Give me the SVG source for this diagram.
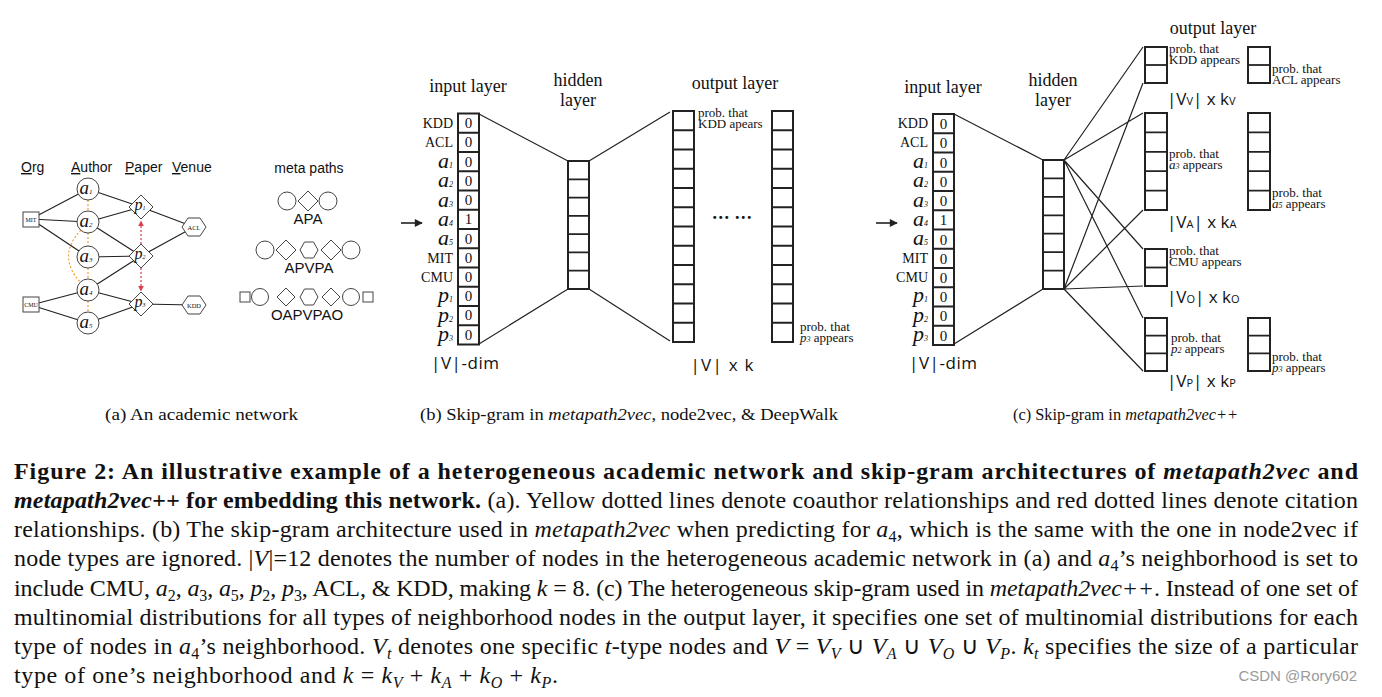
<svg xmlns="http://www.w3.org/2000/svg" width="1382" height="697" viewBox="0 0 1382 697">
<defs>
<style>
.ln{stroke:#222;stroke-width:1.2;fill:none}
.arr{stroke:#222;stroke-width:1.6;fill:none}
.nd{fill:#fff;stroke:#444;stroke-width:1}
.col{fill:#fff;stroke:#222;stroke-width:2}
.div{stroke:#222;stroke-width:1.8;fill:none}
.sf{font-family:"Liberation Serif","Times New Roman",serif;fill:#111}
.ss{font-family:"Liberation Sans",Arial,sans-serif;fill:#111}
.os{font-family:"Open Sans","Liberation Sans",sans-serif;fill:#111}
.pt{font-family:"Liberation Serif","Times New Roman",serif;fill:#111;font-size:13px}
.it{font-style:italic}
.bd{font-weight:bold}
.yel{stroke:#f0a030;stroke-width:1.2;stroke-dasharray:2 2;fill:none}
.red{stroke:#d8404a;stroke-width:1.2;stroke-dasharray:2 2;fill:none}
</style>
<marker id="ah" viewBox="0 0 10 10" refX="9" refY="5" markerWidth="10" markerHeight="8" markerUnits="userSpaceOnUse" orient="auto"><path d="M0,0 L10,5 L0,10 Z" fill="#222"/></marker>
<marker id="rh" viewBox="0 0 10 10" refX="9" refY="5" markerWidth="6" markerHeight="6" markerUnits="userSpaceOnUse" orient="auto"><path d="M0,0 L10,5 L0,10 Z" fill="#d8404a"/></marker>
</defs>
<rect width="1382" height="697" fill="#fff"/>

<!-- Panel (a) -->
<g id="panel-a">
<g id="a-headers" class="ss" font-size="14">
<text x="21" y="172"><tspan text-decoration="underline">O</tspan>rg</text>
<text x="71" y="172"><tspan text-decoration="underline">A</tspan>uthor</text>
<text x="125" y="172"><tspan text-decoration="underline">P</tspan>aper</text>
<text x="172" y="172"><tspan text-decoration="underline">V</tspan>enue</text>
</g>
<g id="a-edges">
<path class="ln" d="M31,219 L88,189 M31,219 L88,222 M31,219 L88,257 M31,305 L88,290 M31,305 L88,323 M88,189 L141,207 M88,222 L141,207 M88,222 L141,256 M88,257 L141,256 M88,290 L141,256 M88,290 L141,304 M88,323 L141,304 M141,207 L194,227 M141,256 L194,227 M141,304 L194,305"/>
<path class="yel" d="M88,200 V211 M88,233 V246 M88,268 V279 M88,301 V312 M81,230 Q56,256 81,283"/>
<path class="red" d="M141,244 V221" marker-end="url(#rh)"/>
<path class="red" d="M141,268 V291" marker-end="url(#rh)"/>
</g>
<g id="n-mit"><rect class="nd" x="23" y="212" width="16" height="15"/><text class="sf" x="31" y="222" font-size="6" text-anchor="middle">MIT</text></g>
<g id="n-cmu"><rect class="nd" x="23" y="297" width="16" height="15"/><text class="sf" x="31" y="307" font-size="6" text-anchor="middle">CMU</text></g>
<g id="n-a1"><circle class="nd" cx="88" cy="189" r="11"/><text class="sf it" x="86" y="194" font-size="19" text-anchor="middle">a<tspan font-size="7">1</tspan></text></g>
<g id="n-a2"><circle class="nd" cx="88" cy="222" r="11"/><text class="sf it" x="86" y="227" font-size="19" text-anchor="middle">a<tspan font-size="7">2</tspan></text></g>
<g id="n-a3"><circle class="nd" cx="88" cy="257" r="11"/><text class="sf it" x="86" y="262" font-size="19" text-anchor="middle">a<tspan font-size="7">3</tspan></text></g>
<g id="n-a4"><circle class="nd" cx="88" cy="290" r="11"/><text class="sf it" x="86" y="295" font-size="19" text-anchor="middle">a<tspan font-size="7">4</tspan></text></g>
<g id="n-a5"><circle class="nd" cx="88" cy="323" r="11"/><text class="sf it" x="86" y="328" font-size="19" text-anchor="middle">a<tspan font-size="7">5</tspan></text></g>
<g id="n-p1"><polygon class="nd" points="141,195 153,207 141,219 129,207"/><text class="sf it" x="140" y="210" font-size="16" text-anchor="middle">p<tspan font-size="6">1</tspan></text></g>
<g id="n-p2"><polygon class="nd" points="141,244 153,256 141,268 129,256"/><text class="sf it" x="140" y="259" font-size="16" text-anchor="middle">p<tspan font-size="6">2</tspan></text></g>
<g id="n-p3"><polygon class="nd" points="141,292 153,304 141,316 129,304"/><text class="sf it" x="140" y="307" font-size="16" text-anchor="middle">p<tspan font-size="6">3</tspan></text></g>
<g id="n-acl"><polygon class="nd" points="182,227 188,218 200,218 206,227 200,236 188,236"/><text class="sf" x="194" y="229.5" font-size="6.5" text-anchor="middle">ACL</text></g>
<g id="n-kdd"><polygon class="nd" points="182,305 188,296 200,296 206,305 200,314 188,314"/><text class="sf" x="194" y="307.5" font-size="6.5" text-anchor="middle">KDD</text></g>
</g>

<!-- meta paths -->
<g id="metapaths">
<text class="ss" x="309" y="173" font-size="14" text-anchor="middle">meta paths</text>
<g id="mp-apa">
<circle class="nd" cx="287" cy="201" r="9"/><polygon class="nd" points="308,191 318,201 308,211 298,201"/><circle class="nd" cx="328" cy="201" r="9"/>
<text class="ss" x="308" y="224" font-size="15" text-anchor="middle">APA</text>
</g>
<g id="mp-apvpa">
<circle class="nd" cx="265" cy="250" r="9"/><polygon class="nd" points="286,240 296,250 286,260 276,250"/><polygon class="nd" points="300,250 304.5,242 313.5,242 318,250 313.5,258 304.5,258"/><polygon class="nd" points="331,240 341,250 331,260 321,250"/><circle class="nd" cx="351" cy="250" r="9"/>
<text class="ss" x="309" y="273" font-size="15" text-anchor="middle">APVPA</text>
</g>
<g id="mp-oapvpao">
<rect class="nd" x="240" y="292" width="10" height="10"/><circle class="nd" cx="260" cy="297" r="8.5"/><polygon class="nd" points="286,288 295,297 286,306 277,297"/><polygon class="nd" points="300,297 304.5,289 313.5,289 318,297 313.5,305 304.5,305"/><polygon class="nd" points="331,288 340,297 331,306 322,297"/><circle class="nd" cx="351" cy="297" r="8.5"/><rect class="nd" x="363" y="292" width="10" height="10"/>
<text class="ss" x="307" y="320" font-size="15" text-anchor="middle">OAPVPAO</text>
</g>
</g>

<!-- Panel (b) -->
<g id="panel-b">
<g id="b-connectors">
<path class="ln" d="M479,114 L568,161 M479,344 L568,289 M589,161 L670,112 M589,289 L670,341"/>
<path class="arr" d="M401,223 H422" marker-end="url(#ah)"/>
</g>
<g id="b-input">
<text class="sf" x="468" y="92" font-size="18" text-anchor="middle">input layer</text>
<rect class="col" x="458" y="113.5" width="21" height="231"/>
<path class="div" d="M458,132.75h21M458,152h21M458,171.25h21M458,190.5h21M458,209.75h21M458,229h21M458,248.25h21M458,267.5h21M458,286.75h21M458,306h21M458,325.25h21"/>
<g class="sf" font-size="15" text-anchor="middle">
<text x="468.5" y="128">0</text><text x="468.5" y="147">0</text><text x="468.5" y="167">0</text><text x="468.5" y="186">0</text><text x="468.5" y="205">0</text><text x="468.5" y="224">1</text><text x="468.5" y="244">0</text><text x="468.5" y="263">0</text><text x="468.5" y="282">0</text><text x="468.5" y="301">0</text><text x="468.5" y="320">0</text><text x="468.5" y="340">0</text>
</g>
<g class="sf" text-anchor="end">
<text x="453" y="128" font-size="14">KDD</text>
<text x="453" y="147" font-size="14">ACL</text>
<text x="453" y="168" font-size="22" class="it">a<tspan font-size="8">1</tspan></text>
<text x="453" y="187" font-size="22" class="it">a<tspan font-size="8">2</tspan></text>
<text x="453" y="207" font-size="22" class="it">a<tspan font-size="8">3</tspan></text>
<text x="453" y="226" font-size="22" class="it">a<tspan font-size="8">4</tspan></text>
<text x="453" y="245" font-size="22" class="it">a<tspan font-size="8">5</tspan></text>
<text x="453" y="263" font-size="14">MIT</text>
<text x="453" y="282" font-size="14">CMU</text>
<text x="453" y="302" font-size="22" class="it">p<tspan font-size="8">1</tspan></text>
<text x="453" y="322" font-size="22" class="it">p<tspan font-size="8">2</tspan></text>
<text x="453" y="341" font-size="22" class="it">p<tspan font-size="8">3</tspan></text>
</g>
<text class="os" x="465" y="369" font-size="17" text-anchor="middle" textLength="68" lengthAdjust="spacing">|V|-dim</text>
</g>
<g id="b-hidden">
<text class="sf" x="578" y="86" font-size="18" text-anchor="middle">hidden</text>
<text class="sf" x="578" y="106" font-size="18" text-anchor="middle">layer</text>
<rect class="col" x="568" y="161" width="21" height="128"/>
<path class="div" d="M568,179.3h21M568,197.6h21M568,215.9h21M568,234.1h21M568,252.4h21M568,270.7h21"/>
</g>
<g id="b-output">
<text class="sf" x="735" y="89" font-size="18" text-anchor="middle">output layer</text>
<rect class="col" x="673" y="111" width="21" height="231"/>
<path class="div" d="M673,130.25h21M673,149.5h21M673,168.75h21M673,188h21M673,207.25h21M673,226.5h21M673,245.75h21M673,265h21M673,284.25h21M673,303.5h21M673,322.75h21"/>
<rect class="col" x="772" y="111" width="21" height="231"/>
<path class="div" d="M772,130.25h21M772,149.5h21M772,168.75h21M772,188h21M772,207.25h21M772,226.5h21M772,245.75h21M772,265h21M772,284.25h21M772,303.5h21M772,322.75h21"/>
<text class="pt" x="698" y="117">prob. that<tspan x="698" dy="11">KDD apears</tspan></text>
<text class="sf bd" x="732" y="224" font-size="18" text-anchor="middle">··· ···</text>
<text class="pt" x="800" y="331">prob. that<tspan x="800" dy="11" class="it">p</tspan><tspan class="it" font-size="8">3</tspan> appears</text>
<text class="os" x="722" y="371" font-size="17" text-anchor="middle" textLength="63" lengthAdjust="spacing">|V| x k</text>
</g>
</g>

<!-- Panel (c) -->
<g id="panel-c">
<g id="c-connectors">
<path class="ln" d="M954,114 L1043,160 M954,344 L1043,289"/>
<path class="ln" d="M1064,160 L1143,47 M1064,160 L1143,113 M1064,160 L1143,249 M1064,160 L1143,318 M1064,289 L1143,83 M1064,289 L1143,210 M1064,289 L1143,286 M1064,289 L1143,371"/>
<path class="arr" d="M876,223 H897" marker-end="url(#ah)"/>
</g>
<g id="c-input">
<text class="sf" x="943" y="93" font-size="18" text-anchor="middle">input layer</text>
<rect class="col" x="933" y="114" width="21" height="231"/>
<path class="div" d="M933,133.25h21M933,152.5h21M933,171.75h21M933,191h21M933,210.25h21M933,229.5h21M933,248.75h21M933,268h21M933,287.25h21M933,306.5h21M933,325.75h21"/>
<g class="sf" font-size="15" text-anchor="middle">
<text x="943.5" y="128.5">0</text><text x="943.5" y="147.5">0</text><text x="943.5" y="167.5">0</text><text x="943.5" y="186.5">0</text><text x="943.5" y="205.5">0</text><text x="943.5" y="224.5">1</text><text x="943.5" y="244.5">0</text><text x="943.5" y="263.5">0</text><text x="943.5" y="282.5">0</text><text x="943.5" y="301.5">0</text><text x="943.5" y="320.5">0</text><text x="943.5" y="340.5">0</text>
</g>
<g class="sf" text-anchor="end">
<text x="928" y="128" font-size="14">KDD</text>
<text x="928" y="147" font-size="14">ACL</text>
<text x="928" y="168" font-size="22" class="it">a<tspan font-size="8">1</tspan></text>
<text x="928" y="187" font-size="22" class="it">a<tspan font-size="8">2</tspan></text>
<text x="928" y="207" font-size="22" class="it">a<tspan font-size="8">3</tspan></text>
<text x="928" y="226" font-size="22" class="it">a<tspan font-size="8">4</tspan></text>
<text x="928" y="245" font-size="22" class="it">a<tspan font-size="8">5</tspan></text>
<text x="928" y="263" font-size="14">MIT</text>
<text x="928" y="282" font-size="14">CMU</text>
<text x="928" y="302" font-size="22" class="it">p<tspan font-size="8">1</tspan></text>
<text x="928" y="322" font-size="22" class="it">p<tspan font-size="8">2</tspan></text>
<text x="928" y="341" font-size="22" class="it">p<tspan font-size="8">3</tspan></text>
</g>
<text class="os" x="943" y="369" font-size="17" text-anchor="middle" textLength="68" lengthAdjust="spacing">|V|-dim</text>
</g>
<g id="c-hidden">
<text class="sf" x="1053" y="86" font-size="18" text-anchor="middle">hidden</text>
<text class="sf" x="1053" y="106" font-size="18" text-anchor="middle">layer</text>
<rect class="col" x="1043" y="160" width="21" height="129"/>
<path class="div" d="M1043,178.4h21M1043,196.9h21M1043,215.3h21M1043,233.7h21M1043,252.1h21M1043,270.6h21"/>
</g>
<text class="sf" x="1213" y="34" font-size="18" text-anchor="middle">output layer</text>
<g id="c-out-v">
<rect class="col" x="1145" y="47" width="22" height="36"/><path class="div" d="M1145,65h22"/>
<rect class="col" x="1248" y="47" width="22" height="36"/><path class="div" d="M1248,65h22"/>
<text class="pt" x="1169" y="53">prob. that<tspan x="1169" dy="11">KDD appears</tspan></text>
<text class="pt" x="1272" y="73">prob. that<tspan x="1272" dy="11">ACL appears</tspan></text>
<text class="os" x="1167" y="105" font-size="17">|V<tspan font-size="11">V</tspan>|  x  k<tspan font-size="11">V</tspan></text>
</g>
<g id="c-out-a">
<rect class="col" x="1145" y="113" width="22" height="97"/><path class="div" d="M1145,132.4h22M1145,151.8h22M1145,171.2h22M1145,190.6h22"/>
<rect class="col" x="1248" y="113" width="22" height="97"/><path class="div" d="M1248,132.4h22M1248,151.8h22M1248,171.2h22M1248,190.6h22"/>
<text class="pt" x="1169" y="158">prob. that<tspan x="1169" dy="11" class="it">a</tspan><tspan class="it" font-size="8">3</tspan> appears</text>
<text class="pt" x="1272" y="197">prob. that<tspan x="1272" dy="11" class="it">a</tspan><tspan class="it" font-size="8">5</tspan> appears</text>
<text class="os" x="1167" y="228" font-size="17">|V<tspan font-size="11">A</tspan>|  x  k<tspan font-size="11">A</tspan></text>
</g>
<g id="c-out-o">
<rect class="col" x="1145" y="249" width="22" height="37"/><path class="div" d="M1145,267.5h22"/>
<text class="pt" x="1169" y="255">prob. that<tspan x="1169" dy="11">CMU appears</tspan></text>
<text class="os" x="1167" y="303" font-size="17">|V<tspan font-size="11">O</tspan>|  x  k<tspan font-size="11">O</tspan></text>
</g>
<g id="c-out-p">
<rect class="col" x="1145" y="318" width="22" height="53"/><path class="div" d="M1145,335.7h22M1145,353.3h22"/>
<rect class="col" x="1248" y="318" width="22" height="53"/><path class="div" d="M1248,335.7h22M1248,353.3h22"/>
<text class="pt" x="1171" y="342">prob. that<tspan x="1171" dy="11" class="it">p</tspan><tspan class="it" font-size="8">2</tspan> appears</text>
<text class="pt" x="1272" y="361">prob. that<tspan x="1272" dy="11" class="it">p</tspan><tspan class="it" font-size="8">3</tspan> appears</text>
<text class="os" x="1167" y="387" font-size="17">|V<tspan font-size="11">P</tspan>|  x  k<tspan font-size="11">P</tspan></text>
</g>
</g>

<!-- sub captions -->
<g id="subcaptions" class="sf" font-size="16">
<text x="105" y="420" textLength="193" lengthAdjust="spacingAndGlyphs">(a)  An academic network</text>
<text x="420" y="420" textLength="418" lengthAdjust="spacingAndGlyphs">(b)  Skip-gram in <tspan class="it">metapath2vec</tspan>, node2vec, &amp; DeepWalk</text>
<text x="1013" y="420" textLength="225" lengthAdjust="spacingAndGlyphs">(c)  Skip-gram in <tspan class="it">metapath2vec++</tspan></text>
</g>

<!-- main caption -->
<g id="caption" class="sf" font-size="24">
<text x="14" y="479" textLength="1344" lengthAdjust="spacing" class="sf bd">Figure 2:  An illustrative example of a heterogeneous academic network and skip-gram architectures of <tspan class="it">metapath2vec</tspan> and</text>
<text x="14" y="508" textLength="1344" lengthAdjust="spacing"><tspan class="bd it">metapath2vec++</tspan><tspan class="bd"> for embedding this network.</tspan>  (a). Yellow dotted lines denote coauthor relationships and red dotted lines denote citation</text>
<text x="14" y="537" textLength="1344" lengthAdjust="spacing">relationships. (b) The skip-gram architecture used in <tspan class="it">metapath2vec</tspan> when predicting for <tspan class="it">a</tspan><tspan font-size="16" dy="5">4</tspan><tspan dy="-5">, which is the same with the one in node2vec if</tspan></text>
<text x="14" y="566" textLength="1344" lengthAdjust="spacing">node types are ignored. |<tspan class="it">V</tspan>|=12 denotes the number of nodes in the heterogeneous academic network in (a) and <tspan class="it">a</tspan><tspan font-size="16" dy="5">4</tspan><tspan dy="-5">’s neighborhood is set to</tspan></text>
<text x="14" y="596" textLength="1344" lengthAdjust="spacing">include CMU, <tspan class="it">a</tspan><tspan font-size="16" dy="5">2</tspan><tspan dy="-5">, </tspan><tspan class="it">a</tspan><tspan font-size="16" dy="5">3</tspan><tspan dy="-5">, </tspan><tspan class="it">a</tspan><tspan font-size="16" dy="5">5</tspan><tspan dy="-5">, </tspan><tspan class="it">p</tspan><tspan font-size="16" dy="5">2</tspan><tspan dy="-5">, </tspan><tspan class="it">p</tspan><tspan font-size="16" dy="5">3</tspan><tspan dy="-5">, ACL, &amp; KDD, making </tspan><tspan class="it">k</tspan> = 8. (c) The heterogeneous skip-gram used in <tspan class="it">metapath2vec++</tspan>. Instead of one set of</text>
<text x="14" y="625" textLength="1344" lengthAdjust="spacing">multinomial distributions for all types of neighborhood nodes in the output layer, it specifies one set of multinomial distributions for each</text>
<text x="14" y="654" textLength="1344" lengthAdjust="spacing">type of nodes in <tspan class="it">a</tspan><tspan font-size="16" dy="5">4</tspan><tspan dy="-5">’s neighborhood. </tspan><tspan class="it">V</tspan><tspan class="it" font-size="16" dy="5">t</tspan><tspan dy="-5"> denotes one specific </tspan><tspan class="it">t</tspan>-type nodes and <tspan class="it">V</tspan> = <tspan class="it">V</tspan><tspan class="it" font-size="16" dy="5">V</tspan><tspan dy="-5"> ∪ </tspan><tspan class="it">V</tspan><tspan class="it" font-size="16" dy="5">A</tspan><tspan dy="-5"> ∪ </tspan><tspan class="it">V</tspan><tspan class="it" font-size="16" dy="5">O</tspan><tspan dy="-5"> ∪ </tspan><tspan class="it">V</tspan><tspan class="it" font-size="16" dy="5">P</tspan><tspan dy="-5">. </tspan><tspan class="it">k</tspan><tspan class="it" font-size="16" dy="5">t</tspan><tspan dy="-5"> specifies the size of a particular</tspan></text>
<text x="14" y="683" textLength="544" lengthAdjust="spacing">type of one’s neighborhood and <tspan class="it">k</tspan> = <tspan class="it">k</tspan><tspan class="it" font-size="16" dy="5">V</tspan><tspan dy="-5"> + </tspan><tspan class="it">k</tspan><tspan class="it" font-size="16" dy="5">A</tspan><tspan dy="-5"> + </tspan><tspan class="it">k</tspan><tspan class="it" font-size="16" dy="5">O</tspan><tspan dy="-5"> + </tspan><tspan class="it">k</tspan><tspan class="it" font-size="16" dy="5">P</tspan><tspan dy="-5">.</tspan></text>
</g>
<text class="ss" x="1357" y="681" font-size="15" text-anchor="end" style="fill:#9a9a9a">CSDN @Rory602</text>
</svg>
